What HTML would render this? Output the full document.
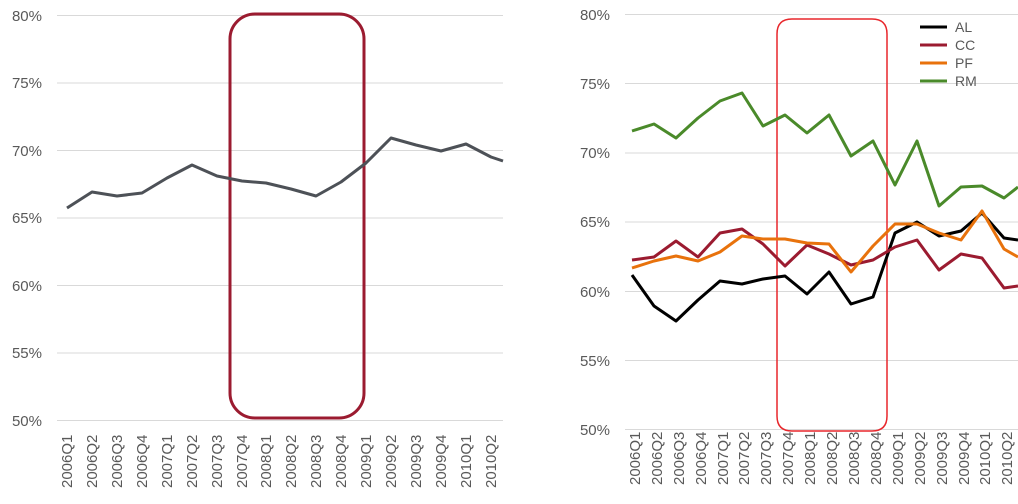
<!DOCTYPE html>
<html><head><style>body{margin:0;background:#fff}svg text{font-family:"Liberation Sans",sans-serif;fill:#595959}</style></head><body>
<svg width="1018" height="499" xmlns="http://www.w3.org/2000/svg">
<g stroke="#d9d9d9" stroke-width="1">
<line x1="57" x2="503" y1="15.5" y2="15.5"/><line x1="57" x2="503" y1="83" y2="83"/><line x1="57" x2="503" y1="150.5" y2="150.5"/><line x1="57" x2="503" y1="218" y2="218"/><line x1="57" x2="503" y1="285.5" y2="285.5"/><line x1="57" x2="503" y1="353" y2="353"/><line x1="57" x2="503" y1="420.5" y2="420.5"/>
<line x1="625" x2="1018" y1="14.5" y2="14.5"/><line x1="625" x2="1018" y1="83.5" y2="83.5"/><line x1="625" x2="1018" y1="153" y2="153"/><line x1="625" x2="1018" y1="222" y2="222"/><line x1="625" x2="1018" y1="291.5" y2="291.5"/><line x1="625" x2="1018" y1="360.5" y2="360.5"/><line x1="625" x2="1018" y1="429.5" y2="429.5"/>
</g>
<g font-size="15" text-anchor="end">
<text x="42" y="21">80%</text><text x="42" y="88">75%</text><text x="42" y="156">70%</text><text x="42" y="223">65%</text><text x="42" y="291">60%</text><text x="42" y="358">55%</text><text x="42" y="426">50%</text>
<text x="610" y="20">80%</text><text x="610" y="89">75%</text><text x="610" y="158">70%</text><text x="610" y="227">65%</text><text x="610" y="297">60%</text><text x="610" y="366">55%</text><text x="610" y="435">50%</text>
</g>
<rect x="230" y="14" width="134" height="404" rx="25" fill="none" stroke="#9b1b30" stroke-width="3"/>
<polyline fill="none" stroke="#4d5157" stroke-width="3" stroke-linejoin="round" points="67,208 92,192 117,196 142,193 167,178 192,165 217,176 242,181 266,183 291,189 316,196 341,182 366,163 391,138 416,145 441,151 466,144 491,157 503,161"/>
<path d="M792,19 H872 Q887,19 887,34 V416 Q887,431 872,431 H792 Q777,431 777,416 V34 Q777,19 792,19 Z" fill="none" stroke="rgb(232,39,44)" stroke-width="1.5"/>
<g stroke-width="3"><line x1="920" x2="947" y1="27" y2="27" stroke="#000"/><line x1="920" x2="947" y1="45" y2="45" stroke="#9b1b30"/><line x1="920" x2="947" y1="63" y2="63" stroke="#e8720c"/><line x1="920" x2="947" y1="81" y2="81" stroke="#4a8a2a"/></g>
<g font-size="14"><text x="955" y="32">AL</text><text x="955" y="50">CC</text><text x="955" y="68">PF</text><text x="955" y="86">RM</text></g>
<g font-size="15">
<text transform="translate(72,488) rotate(-90)">2006Q1</text><text transform="translate(97,488) rotate(-90)">2006Q2</text><text transform="translate(122,488) rotate(-90)">2006Q3</text><text transform="translate(147,488) rotate(-90)">2006Q4</text><text transform="translate(172,488) rotate(-90)">2007Q1</text><text transform="translate(197,488) rotate(-90)">2007Q2</text><text transform="translate(222,488) rotate(-90)">2007Q3</text><text transform="translate(247,488) rotate(-90)">2007Q4</text><text transform="translate(271,488) rotate(-90)">2008Q1</text><text transform="translate(296,488) rotate(-90)">2008Q2</text><text transform="translate(321,488) rotate(-90)">2008Q3</text><text transform="translate(346,488) rotate(-90)">2008Q4</text><text transform="translate(371,488) rotate(-90)">2009Q1</text><text transform="translate(396,488) rotate(-90)">2009Q2</text><text transform="translate(421,488) rotate(-90)">2009Q3</text><text transform="translate(446,488) rotate(-90)">2009Q4</text><text transform="translate(471,488) rotate(-90)">2010Q1</text><text transform="translate(496,488) rotate(-90)">2010Q2</text>
<text transform="translate(640,485) rotate(-90)">2006Q1</text><text transform="translate(662,485) rotate(-90)">2006Q2</text><text transform="translate(684,485) rotate(-90)">2006Q3</text><text transform="translate(706,485) rotate(-90)">2006Q4</text><text transform="translate(728,485) rotate(-90)">2007Q1</text><text transform="translate(749,485) rotate(-90)">2007Q2</text><text transform="translate(771,485) rotate(-90)">2007Q3</text><text transform="translate(793,485) rotate(-90)">2007Q4</text><text transform="translate(815,485) rotate(-90)">2008Q1</text><text transform="translate(837,485) rotate(-90)">2008Q2</text><text transform="translate(859,485) rotate(-90)">2008Q3</text><text transform="translate(881,485) rotate(-90)">2008Q4</text><text transform="translate(903,485) rotate(-90)">2009Q1</text><text transform="translate(925,485) rotate(-90)">2009Q2</text><text transform="translate(947,485) rotate(-90)">2009Q3</text><text transform="translate(969,485) rotate(-90)">2009Q4</text><text transform="translate(990,485) rotate(-90)">2010Q1</text><text transform="translate(1012,485) rotate(-90)">2010Q2</text>
</g>
<g fill="none" stroke-width="3" stroke-linejoin="round">
<polyline stroke="#4a8a2a" points="632,131 654,124 676,138 698,118 720,101 742,93 763,126 785,115 807,133 829,115 851,156 873,141 895,185 917,141 939,206 961,187 982,186 1004,198 1018,187"/>
<polyline stroke="#000" points="632,275 654,306 676,321 698,300 720,281 742,284 763,279 785,276 807,294 829,272 851,304 873,297 895,233 917,222 939,236 961,231 982,213 1004,238 1018,240"/>
<polyline stroke="#9b1b30" points="632,260 654,257 676,241 698,257 720,233 742,229 763,244 785,266 807,245 829,254 851,265 873,260 895,247 917,240 939,270 961,254 982,258 1004,288 1018,286"/>
<polyline stroke="#e8720c" points="632,268 654,261 676,256 698,261 720,252 742,236 763,239 785,239 807,243 829,244 851,272 873,246 895,224 917,224 939,233 961,240 982,211 1004,249 1018,257"/>
</g>
</svg>
</body></html>
